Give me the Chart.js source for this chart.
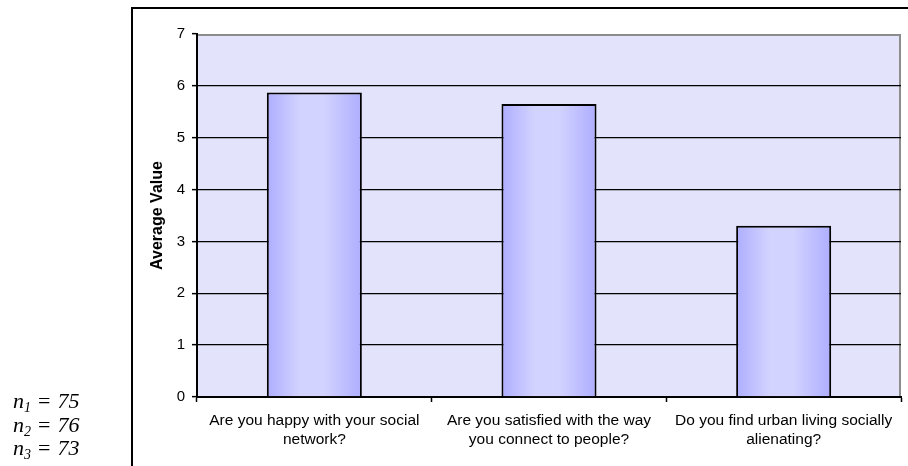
<!DOCTYPE html>
<html>
<head>
<meta charset="utf-8">
<script src="https://cdn.jsdelivr.net/npm/chart.js@4/dist/chart.umd.min.js"></script>
<style>
  html, body { margin: 0; padding: 0; background: #fff; }
  #wrap { position: relative; width: 908px; height: 466px; overflow: hidden; }
  #frame { position: absolute; left: 131px; top: 7px; width: 900px; height: 600px;
           border-left: 2px solid #000; border-top: 2px solid #000; box-sizing: border-box; }
  #chart { position: absolute; left: 0; top: 0; }
  #samples { position: absolute; left: 13px; top: 389px; font-family: "Liberation Serif", "Times New Roman", serif;
             font-style: italic; font-size: 22px; line-height: 23.5px; color: #000; }
  #samples sub { font-size: 14px; vertical-align: -4px; line-height: 0; }
  #samples .eq { font-style: normal; margin: 0 7px 0 7px; }
</style>
</head>
<body>
<div id="wrap">
  <div id="frame"></div>
  <canvas id="chart" width="908" height="466"></canvas>
  <div id="samples"></div>
</div>
<script>
// Survey questions (x categories), mean answers and respondents per question
const questions = [
  ["Are you happy with your social", "network?"],
  ["Are you satisfied with the way", "you connect to people?"],
  ["Do you find urban living socially", "alienating?"]
];
const averages = [5.87, 5.65, 3.30];
const sampleSizes = [75, 76, 73];
const yMin = 0, yMax = 7, yStep = 1;

// Sample-size notes, n1..n3
document.getElementById('samples').innerHTML = sampleSizes
  .map((n, i) => `<div>n<sub>${i + 1}</sub><span class="eq">=</span>${n}</div>`)
  .join('');

const BAR_PCT = 0.405;

// Horizontal shading across each bar
function barGradient(c) {
  const chart = c.chart;
  const xs = chart.scales.x;
  if (!xs || !chart.chartArea) return '#C4C4FF';
  const cx = xs.getPixelForValue(c.dataIndex);
  const w = (xs.width / questions.length) * BAR_PCT;
  const g = chart.ctx.createLinearGradient(cx - w / 2, 0, cx + w / 2, 0);
  g.addColorStop(0, '#ADADFF');
  g.addColorStop(0.35, '#D3D3FF');
  g.addColorStop(0.6, '#D3D3FF');
  g.addColorStop(1, '#ADADFF');
  return g;
}

// Plot-area fill with grey top/right border
const plotArea = {
  id: 'plotArea',
  beforeDraw(chart) {
    const { ctx, chartArea: a } = chart;
    ctx.save();
    ctx.fillStyle = '#E3E3FC';
    ctx.fillRect(a.left, a.top, a.right - a.left, a.bottom - a.top);
    ctx.strokeStyle = '#8C8C8C';
    ctx.lineWidth = 2;
    ctx.beginPath();
    ctx.moveTo(a.left, a.top + 1);
    ctx.lineTo(a.right - 1, a.top + 1);
    ctx.lineTo(a.right - 1, a.bottom);
    ctx.stroke();
    ctx.restore();
  }
};

new Chart(document.getElementById('chart'), {
  type: 'bar',
  data: {
    labels: questions,
    datasets: [{
      data: averages,
      backgroundColor: barGradient,
      borderColor: '#000',
      borderWidth: 2,
      barPercentage: BAR_PCT,
      categoryPercentage: 1
    }]
  },
  options: {
    responsive: false,
    animation: false,
    devicePixelRatio: 1,
    layout: { padding: { left: 148, top: 34, right: 7, bottom: 0 } },
    plugins: { legend: { display: false }, tooltip: { enabled: false } },
    scales: {
      x: {
        afterFit(s) { s.height = 69; },
        grid: { drawOnChartArea: false, drawTicks: true, tickLength: 5, tickColor: '#000', tickWidth: 1.5 },
        border: { color: '#000', width: 2 },
        ticks: {
          color: '#000', maxRotation: 0, autoSkip: false, padding: 9,
          font: { family: '"Liberation Sans", Arial, sans-serif', size: 15.5, lineHeight: 1.25 }
        }
      },
      y: {
        min: yMin, max: yMax,
        afterFit(s) { s.width = 49; },
        grid: {
          color: (c) => (c.tick && c.tick.value === yMax) ? 'rgba(0,0,0,0)' : '#000',
          lineWidth: 1.3,
          tickLength: 5, tickColor: '#000', tickWidth: 1.5
        },
        border: { color: '#000', width: 2 },
        ticks: {
          stepSize: yStep, color: '#000', padding: 7,
          font: { family: '"Liberation Sans", Arial, sans-serif', size: 15 }
        },
        title: {
          display: true, text: 'Average Value', color: '#000', padding: 0,
          font: { family: '"Liberation Sans", Arial, sans-serif', size: 16, weight: 'bold', lineHeight: 1.2 }
        }
      }
    }
  },
  plugins: [plotArea]
});
</script>
</body>
</html>
